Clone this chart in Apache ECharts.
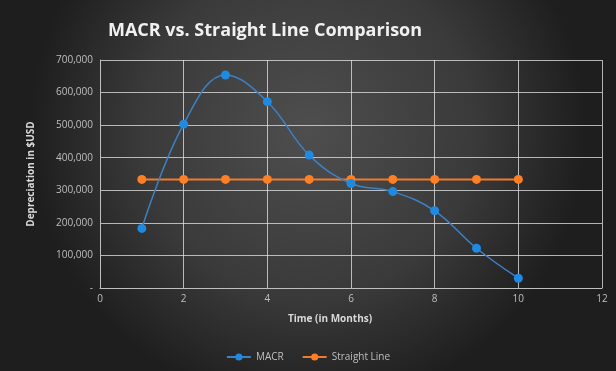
<!DOCTYPE html>
<html>
<head>
<meta charset="utf-8">
<script src="https://cdn.jsdelivr.net/npm/echarts@6/dist/echarts.min.js"></script>
<style>
html,body{margin:0;padding:0;background:#222;}
#c{width:616px;height:371px;}
</style>
</head>
<body>
<div id="c"></div>
<script>
const months = [1, 2, 3, 4, 5, 6, 7, 8, 9, 10];
const macr = [183000, 503000, 654000, 572000, 408000, 321000, 296000, 237000, 122000, 30000];
const straightLine = [333333, 333333, 333333, 333333, 333333, 333333, 333333, 333333, 333333, 333333];
const seriesNames = ['MACR', 'Straight Line'];
const titleText = 'MACR vs. Straight Line Comparison';
const xAxisTitle = 'Time (in Months)';
const yAxisTitle = 'Depreciation in $USD';

const chart = echarts.init(document.getElementById('c'));
const font = '"Open Sans", "Liberation Sans", sans-serif';
const pairs = (xs, ys) => xs.map((x, i) => [x, ys[i]]);
chart.setOption({
  animation: false,
  backgroundColor: {
    type: 'radial', x: 0.5, y: 0.35, r: 0.75,
    colorStops: [
      {offset: 0, color: '#4e4e4e'},
      {offset: 0.6, color: '#3a3a3a'},
      {offset: 1, color: '#1e1e1e'}
    ]
  },
  title: {
    text: titleText,
    left: 260, top: 17, textAlign: 'center',
    textStyle: {color: '#f0f0f0', fontFamily: font, fontWeight: 'bold', fontSize: 18}
  },
  legend: {
    data: seriesNames,
    bottom: 4, left: 'center',
    itemWidth: 24, itemHeight: 9, itemGap: 18,
    textStyle: {color: '#bfbfbf', fontFamily: font, fontSize: 10}
  },
  grid: {left: 100, right: 14, top: 60, bottom: 83},
  xAxis: {
    type: 'value', min: 0, max: 12, interval: 2,
    name: xAxisTitle, nameLocation: 'middle', nameGap: 26,
    nameTextStyle: {color: '#d9d9d9', fontFamily: font, fontWeight: 'bold', fontSize: 10, padding: [0, 42, 0, 0]},
    axisLine: {show: true, lineStyle: {color: '#bfbfbf', width: 1}},
    axisTick: {show: false},
    axisLabel: {color: '#bfbfbf', fontFamily: font, fontSize: 10, margin: 6},
    splitLine: {show: true, lineStyle: {color: 'rgba(230,230,230,0.75)', width: 1}}
  },
  yAxis: {
    type: 'value', min: 0, max: 700000, interval: 100000,
    name: yAxisTitle, nameLocation: 'middle', nameGap: 64,
    nameTextStyle: {color: '#d9d9d9', fontFamily: font, fontWeight: 'bold', fontSize: 10},
    axisLine: {show: true, lineStyle: {color: '#bfbfbf', width: 1}},
    axisTick: {show: false},
    axisLabel: {
      color: '#bfbfbf', fontFamily: font, fontSize: 10, margin: 7,
      formatter: v => v === 0 ? '-' : v.toLocaleString('en-US')
    },
    splitLine: {show: true, lineStyle: {color: 'rgba(230,230,230,0.75)', width: 1}}
  },
  series: [
    {
      name: seriesNames[0], type: 'line', smooth: 0.4,
      data: pairs(months, macr),
      symbol: 'circle', symbolSize: 9,
      lineStyle: {color: '#3d80c4', width: 1.5},
      itemStyle: {color: '#1f8ae0'},
      z: 3
    },
    {
      name: seriesNames[1], type: 'line',
      data: pairs(months, straightLine),
      symbol: 'circle', symbolSize: 9,
      lineStyle: {color: '#f07a2e', width: 2},
      itemStyle: {color: '#ff7f24'},
      z: 2
    }
  ]
});
</script>
</body>
</html>
